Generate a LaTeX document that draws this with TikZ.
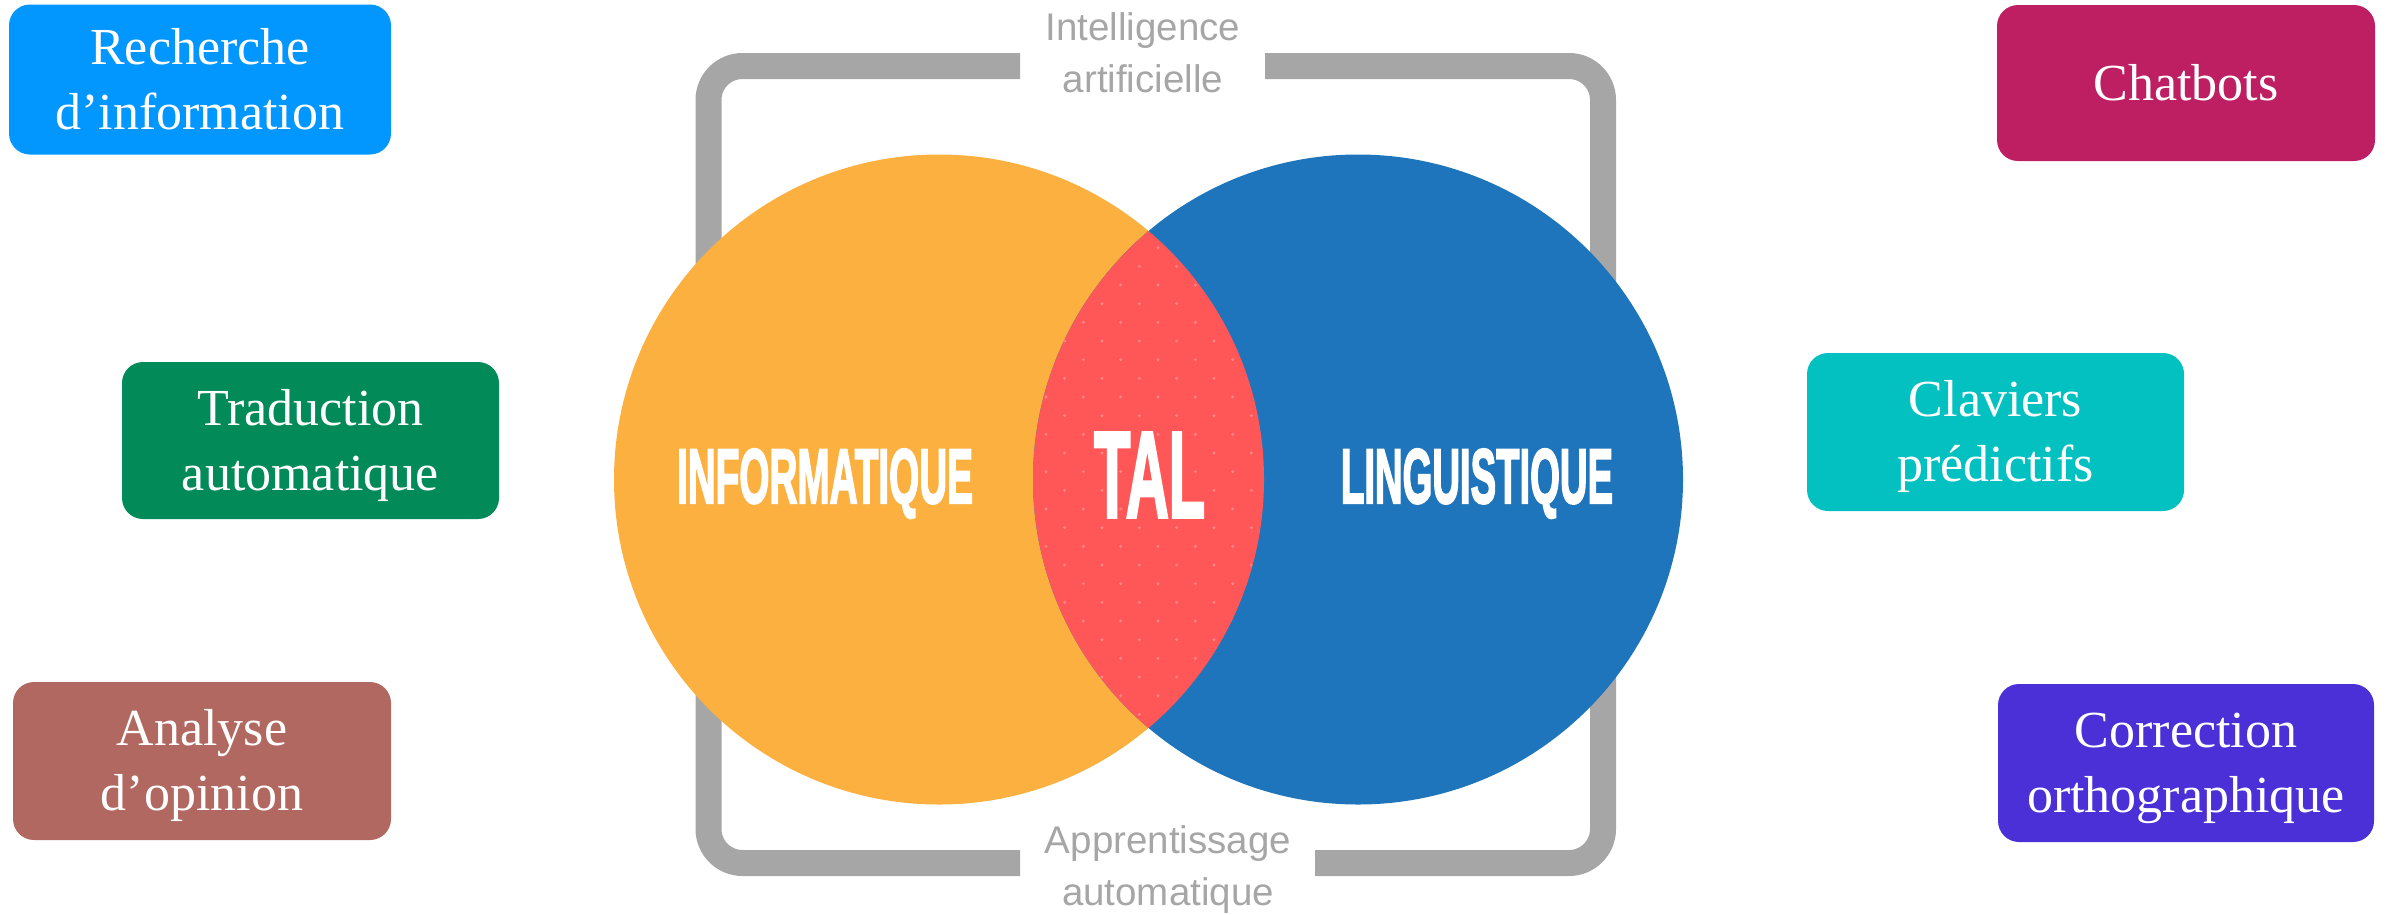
\documentclass[tikz,border=0pt]{standalone}
\usepackage{fontspec}
\usepackage{graphicx}
\setmainfont{Liberation Serif}
\newfontfamily\graysans{Liberation Sans}
\newfontfamily\capsfont[BoldFeatures={FakeBold=3}]{Liberation Sans}
\definecolor{orangeC}{RGB}{251,176,64}
\definecolor{blueC}{RGB}{31,117,187}
\definecolor{redC}{RGB}{255,87,87}
\definecolor{dotC}{RGB}{255,135,135}
\definecolor{grayC}{RGB}{166,166,166}
\definecolor{boxA}{RGB}{2,150,255}
\definecolor{boxB}{RGB}{2,138,88}
\definecolor{boxC}{RGB}{176,104,96}
\definecolor{boxD}{RGB}{190,30,98}
\definecolor{boxE}{RGB}{3,193,193}
\definecolor{boxF}{RGB}{74,48,214}
\begin{document}
\begin{tikzpicture}[x=1pt,y=-1pt,
  frame/.style={draw=grayC, line width=26pt, rounded corners=34pt},
  appbox/.style={rounded corners=21pt, minimum width=378pt, minimum height=158pt,
    inner sep=0pt, text=white, align=center,
    font=\fontsize{52}{65}\selectfont, text height=99pt, text depth=0pt},
  onebox/.style={appbox, text height=34pt},
  graylabel/.style={text=grayC, align=center, inner sep=0pt,
    font=\graysans\fontsize{38.5}{52}\selectfont, text height=79.6pt, text depth=0pt},
  bigcap/.style={text=white, inner sep=0pt, anchor=base}
]
\useasboundingbox (0,0) rectangle (2387,914);

% gray brackets
\draw[frame] (1020,66) -- (708.5,66) -- (708.5,863) -- (1020,863);
\draw[frame] (1265,66) -- (1603,66) -- (1603,863) -- (1315,863);

% circles
\fill[orangeC] (939,479.5) circle[radius=325pt];
\fill[blueC] (1358,479.5) circle[radius=325pt];
\begin{scope}
  \clip (939,479.5) circle[radius=325pt];
  \clip (1358,479.5) circle[radius=325pt];
  \fill[redC] (1000,140) rectangle (1300,820);
  \foreach \k in {-3,...,10}{
    \foreach \m in {-7,...,21}{
      \pgfmathtruncatemacro\parsum{\k+\m+100}
      \ifodd\parsum
        \fill[dotC] (1083.3+18.667*\k, 341+18.667*\m) circle[radius=1.6pt];
      \fi
    }
  }
\end{scope}

% labels in the diagram
\node[graylabel] (ia) at (1143,52.2) {Intelligence\\artificielle};
\node[graylabel] (ml) at (1168,866) {Apprentissage\\automatique};

\node[bigcap] (info) at (825,503) {\resizebox{296pt}{54pt}{\capsfont\bfseries INFORMATIQUE}};
\node[bigcap] (tal) at (1149.5,517) {\resizebox{111pt}{84pt}{\capsfont\bfseries TAL}};
\node[bigcap] (ling) at (1477,503) {\resizebox{272pt}{54pt}{\capsfont\bfseries LINGUISTIQUE}};

% application boxes
\node[appbox, fill=boxA, minimum width=382pt, minimum height=150pt] (rech) at (200,79.5) {Recherche\\d’information};
\node[appbox, fill=boxB, minimum width=377pt, minimum height=157pt] (trad) at (310.5,440.5) {Traduction\\automatique};
\node[appbox, fill=boxC] (opin) at (202,761) {Analyse\\d’opinion};
\node[onebox, fill=boxD, minimum height=156pt] (chat) at (2186,83) {Chatbots};
\node[appbox, fill=boxE, minimum width=377pt] (clav) at (1995.5,432) {Claviers\\prédictifs};
\node[appbox, fill=boxF, minimum width=376pt] (corr) at (2186,763) {Correction\\orthographique};
\end{tikzpicture}
\end{document}
